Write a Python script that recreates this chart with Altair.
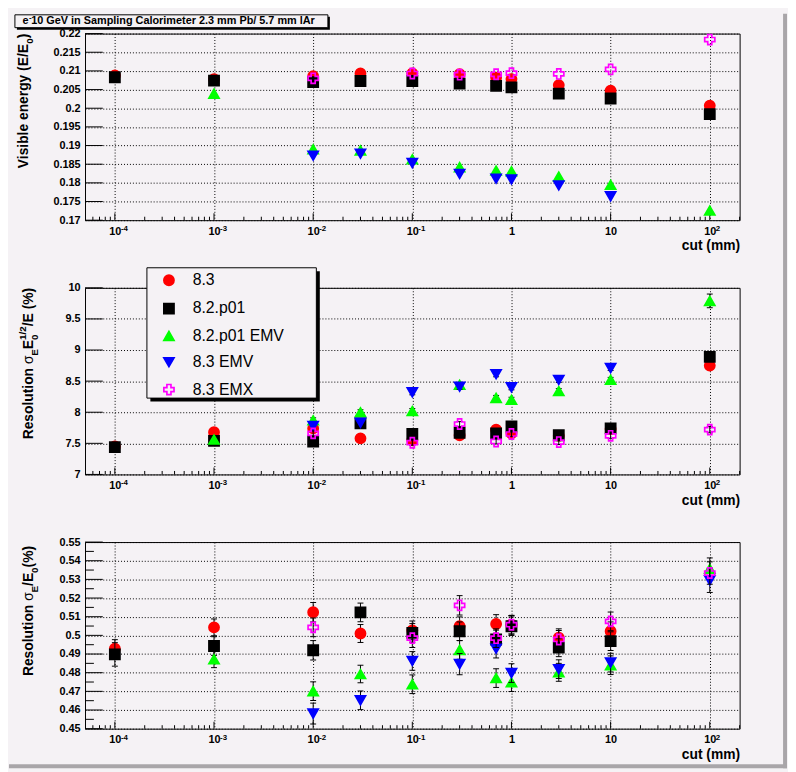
import altair as alt
import pandas as pd

# ---------------- data ----------------
CUTS = [1e-4, 1e-3, 1e-2, 3e-2, 0.1, 0.3, 0.7, 1, 3, 10, 100]
SERIES = ["8.3", "8.2.p01", "8.2.p01 EMV", "8.3 EMV", "8.3 EMX"]
COLORS = ["#ff0000", "#000000", "#00ff00", "#0000ff", "#ff00ff"]
FILLS = ["#ff0000", "#000000", "#00ff00", "#0000ff", "transparent"]
SHAPES = ["circle", "square", "triangle-up", "triangle-down", "cross"]

# Visible energy (E/E0)
VIS_83 = [0.2088, 0.2078, 0.2086, 0.2093, 0.2093, 0.2091, 0.2082, 0.2078, 0.2062, 0.2047, 0.2007]
VIS_82 = [0.2083, 0.2074, 0.2070, 0.2073, 0.2073, 0.2066, 0.2060, 0.2056, 0.2039, 0.2026, 0.1984]
VIS_82EMV = [None, 0.2039, 0.1890, 0.1887, 0.1863, 0.1842, 0.1833, 0.1831, 0.1817, 0.1795, 0.1726]
VIS_83EMV = [None, None, 0.1873, 0.1878, 0.1853, 0.1824, 0.1811, 0.1809, 0.1793, 0.1764, None]
VIS_83EMX = [None, None, 0.2080, None, 0.2093, 0.2090, 0.2091, 0.2094, 0.2092, 0.2104, 0.2184]

# Resolution sigma_E E0^1/2 / E (%)
RES_83 = [7.45, 7.68, 7.74, 7.58, 7.55, 7.63, 7.72, 7.66, 7.62, 7.73, 8.75]
RES_82 = [7.44, 7.54, 7.53, 7.82, 7.65, 7.67, 7.66, 7.77, 7.63, 7.74, 8.89]
RES_82EMV = [None, 7.56, 7.87, 8.00, 8.02, 8.44, 8.23, 8.20, 8.34, 8.52, 9.79]
RES_83EMV = [None, None, 7.78, 7.83, 8.32, 8.41, 8.61, 8.40, 8.52, 8.71, None]
RES_83EMX = [None, None, 7.66, None, 7.51, 7.81, 7.53, 7.65, 7.52, 7.62, 7.72]
RES_ERR_83 = [0.04, 0.04, 0.04, 0.04, 0.04, 0.04, 0.04, 0.04, 0.04, 0.04, 0.05]
RES_ERR_82 = [0.04, 0.04, 0.04, 0.04, 0.04, 0.04, 0.04, 0.04, 0.04, 0.04, 0.05]
RES_ERR_82EMV = [0.04, 0.04, 0.04, 0.04, 0.04, 0.04, 0.04, 0.04, 0.04, 0.04, 0.11]
RES_ERR_83EMV = [0.04, 0.04, 0.04, 0.04, 0.04, 0.04, 0.04, 0.04, 0.04, 0.04, 0.05]
RES_ERR_83EMX = [0.04, 0.04, 0.04, 0.04, 0.04, 0.04, 0.04, 0.04, 0.04, 0.04, 0.05]

# Resolution sigma_E / E0 (%)
SIG_83 = [0.4929, 0.5043, 0.5124, 0.5010, 0.5027, 0.5049, 0.5061, 0.5057, 0.4987, 0.5022, None]
SIG_82 = [0.4898, 0.4943, 0.4920, 0.5123, 0.5013, 0.5022, 0.4978, 0.5049, 0.4934, 0.4969, None]
SIG_82EMV = [None, 0.4872, 0.4701, 0.4793, 0.4738, 0.4922, 0.4771, 0.4749, 0.4802, 0.4840, 0.5357]
SIG_83EMV = [None, None, 0.4581, 0.4652, 0.4863, 0.4846, 0.4929, 0.4798, 0.4819, 0.4854, 0.5295]
SIG_83EMX = [None, None, 0.5043, None, 0.4985, 0.5161, 0.4985, 0.5057, 0.4978, 0.5075, 0.5334]
SIG_ERR_83 = [0.0048, 0.0045, 0.0052, 0.0048, 0.0050, 0.0050, 0.0050, 0.0050, 0.0048, 0.0050, 0.0060]
SIG_ERR_82 = [0.0063, 0.0050, 0.0052, 0.0050, 0.0050, 0.0050, 0.0050, 0.0050, 0.0048, 0.0050, 0.0060]
SIG_ERR_82EMV = [0.0050, 0.0045, 0.0050, 0.0047, 0.0050, 0.0050, 0.0050, 0.0050, 0.0048, 0.0050, 0.0058]
SIG_ERR_83EMV = [0.0050, 0.0050, 0.0056, 0.0050, 0.0050, 0.0057, 0.0050, 0.0050, 0.0050, 0.0050, 0.0065]
SIG_ERR_83EMX = [0.0050, 0.0050, 0.0050, 0.0050, 0.0050, 0.0052, 0.0050, 0.0050, 0.0048, 0.0050, 0.0060]

# axes
DECADES = [1e-4, 1e-3, 1e-2, 1e-1, 1, 10, 100]
DECADE_BASES = ["10", "10", "10", "10", "1", "10", "10"]
DECADE_EXPS = ["-4", "-3", "-2", "-1", "", "", "2"]
MINOR_MULT = [2, 3, 4, 5, 6, 7, 8, 9]
VIS_TICKS = [0.17, 0.175, 0.18, 0.185, 0.19, 0.195, 0.2, 0.205, 0.21, 0.215, 0.22]
RES_TICKS = [7, 7.5, 8, 8.5, 9, 9.5, 10]
SIG_TICKS = [0.45, 0.46, 0.47, 0.48, 0.49, 0.5, 0.51, 0.52, 0.53, 0.54, 0.55]
SIG_MINOR = [0.455, 0.465, 0.475, 0.485, 0.495, 0.505, 0.515, 0.525, 0.535, 0.545]

TITLE = ["e", "-", " 10 GeV in Sampling Calorimeter 2.3 mm Pb/ 5.7 mm lAr"]

# ---------------- style ----------------
FONT = "Liberation Sans"
BG = "#f5f2f5"
PW, PH = 663, 189
XDOM = [5e-5, 200]
ONE = pd.DataFrame({"k": [0]})

AW = {' ': 278, '(': 333, ')': 333, '%': 889, '/': 278, '.': 278, '-': 333,
      'E': 667, 'R': 722, 'V': 667, 'G': 778, 'S': 667, 'C': 722, 'P': 667, 'A': 722,
      'a': 556, 'b': 611, 'c': 556, 'e': 556, 'g': 611, 'i': 278, 'l': 278, 'm': 889,
      'n': 611, 'o': 611, 'p': 611, 'r': 389, 's': 556, 't': 333, 'u': 611, 'y': 556,
      'σ': 600}


def tw(s, size):
    return sum(AW.get(ch, 556) for ch in s) * size / 1000.0


def frame(vals, errs=None):
    rows = []
    for i, s in enumerate(SERIES):
        for j, c in enumerate(CUTS):
            v = vals[i][j]
            if v is None:
                continue
            rows.append(dict(cut=c, value=v, err=(errs[i][j] if errs else 0.0), series=s))
    return pd.DataFrame(rows)


def text_layer(txt, x, y, size, weight="bold", angle=0):
    kw = dict(text=txt, align="left", baseline="alphabetic", font=FONT,
              fontSize=size, fontWeight=weight, color="black")
    if angle:
        kw["angle"] = angle
    return alt.Chart(ONE).mark_text(**kw).encode(x=alt.value(x), y=alt.value(y))


def rect_layer(x, x2, y, y2, fill, stroke=None):
    kw = dict(fill=fill)
    if stroke:
        kw.update(stroke=stroke, strokeWidth=1)
    return alt.Chart(ONE).mark_rect(**kw).encode(
        x=alt.value(x), x2=alt.value(x2), y=alt.value(y), y2=alt.value(y2))


def ytitle(pieces, base_x, size=14, sub_size=10, sub_shift=5, sup_shift=-7):
    placed = []
    pos = 0.0
    for kind, txt in pieces:
        if kind == "n":
            placed.append((txt, pos, size, "bold", 0)); pos += tw(txt, size)
        elif kind == "g":
            placed.append((txt, pos, size, "normal", 0)); pos += tw(txt, size)
        elif kind == "sub":
            placed.append((txt, pos, sub_size, "bold", sub_shift)); pos += tw(txt, sub_size)
        elif kind == "subsup":
            a, b = txt
            placed.append((a, pos, sub_size, "bold", sub_shift))
            placed.append((b, pos, sub_size, "bold", sup_shift))
            pos += max(tw(a, sub_size), tw(b, sub_size))
    total = pos
    return [text_layer(t, base_x + sh, total - p, sz, wt, angle=270) for t, p, sz, wt, sh in placed]


label_expr = "[" + ",".join("'%s'" % l for l in DECADE_BASES) + "][round(log(datum.value)/LN10)+4]"
minor_x = [m * d for d in [1e-5] + DECADES for m in MINOR_MULT if 5.01e-5 < m * d <= 200]
exp_df = pd.DataFrame({"cut": DECADES, "exp": DECADE_EXPS})
exp_df = exp_df[exp_df["exp"] != ""]

FILL_SCALE = alt.Scale(domain=SERIES, range=FILLS)
STROKE_SCALE = alt.Scale(domain=SERIES, range=COLORS)
SHAPE_SCALE = alt.Scale(domain=SERIES, range=SHAPES)


def make_panel(df, ydom, ymajor, yminor, tpieces, title_x, legend=None, errors=False, pre=(), post=()):
    xs = alt.Scale(type="log", domain=XDOM, nice=False)
    ys = alt.Scale(domain=ydom, nice=False, zero=False)
    xaxis = alt.Axis(values=DECADES, labelExpr=label_expr, grid=True, ticks=False, tickSize=0,
                     domain=False, labelFont=FONT, labelFontSize=11, labelFontWeight="bold",
                     labelColor="black", labelPadding=5, labelFlush=False, labelOverlap=False,
                     gridColor="black", gridDash=[1, 2], gridWidth=1, gridOpacity=1,
                     title="cut (mm)", titleFont=FONT, titleFontSize=14, titleFontWeight="bold",
                     titleColor="black", titleAnchor="end", titleAlign="right",
                     titleBaseline="alphabetic", titleX=PW, titleY=30)
    yaxis = alt.Axis(values=ymajor, format="~g", grid=True, ticks=False, tickSize=0, domain=False,
                     labelFont=FONT, labelFontSize=11, labelFontWeight="bold", labelColor="black",
                     labelPadding=5, labelFlush=False, labelOverlap=False,
                     gridColor="black", gridDash=[1, 2], gridWidth=1, gridOpacity=1, title=None)
    X = alt.X("cut:Q", scale=xs, axis=xaxis)
    layers = list(pre)
    # inward ticks
    layers.append(alt.Chart(pd.DataFrame({"cut": DECADES})).mark_rule(color="black", strokeWidth=1).encode(
        x=X, y=alt.value(PH), y2=alt.value(PH - 7)))
    layers.append(alt.Chart(pd.DataFrame({"cut": minor_x})).mark_rule(color="black", strokeWidth=1).encode(
        x=X, y=alt.value(PH), y2=alt.value(PH - 3.5)))
    layers.append(alt.Chart(pd.DataFrame({"value": ymajor})).mark_rule(color="black", strokeWidth=1).encode(
        y=alt.Y("value:Q", scale=ys, axis=yaxis), x=alt.value(0), x2=alt.value(18)))
    if yminor:
        layers.append(alt.Chart(pd.DataFrame({"value": yminor})).mark_rule(color="black", strokeWidth=1).encode(
            y=alt.Y("value:Q", scale=ys, axis=yaxis), x=alt.value(0), x2=alt.value(9)))
    # exponents of the decade labels
    layers.append(alt.Chart(exp_df).mark_text(align="left", baseline="alphabetic", dx=tw("10", 11) / 2,
                                              font=FONT, fontSize=8, fontWeight="bold", color="black").encode(
        x=X, y=alt.value(PH + 11), text="exp:N"))
    for s in SERIES:
        base = alt.Chart(df).transform_filter(alt.datum.series == s)
        if errors:
            eb = base.transform_calculate(lo="datum.value - datum.err", hi="datum.value + datum.err")
            layers.append(eb.mark_rule(color="black", strokeWidth=1).encode(
                x=X, y=alt.Y("lo:Q", scale=ys, axis=yaxis), y2="hi:Q"))
            for f in ("lo", "hi"):
                layers.append(eb.mark_tick(orient="horizontal", size=6, thickness=1, color="black",
                                           opacity=1).encode(
                    x=X, y=alt.Y(f + ":Q", scale=ys, axis=yaxis)))
        layers.append(base.mark_point(filled=True, opacity=1, size=106, strokeWidth=1.7).encode(
            x=X, y=alt.Y("value:Q", scale=ys, axis=yaxis),
            fill=alt.Fill("series:N", scale=FILL_SCALE, legend=legend),
            stroke=alt.Stroke("series:N", scale=STROKE_SCALE, legend=legend),
            shape=alt.Shape("series:N", scale=SHAPE_SCALE, legend=legend)))
    layers += ytitle(tpieces, title_x)
    layers += list(post)
    return alt.layer(*layers).properties(width=PW, height=PH)


# panel 1 decorations: canvas bevel + title box
ox, oy = 77, 20
pre1 = [
    rect_layer(784 - ox, 788 - ox, -oy, 764 - oy, "#a9a6a9"),
    rect_layer(-ox, 788 - ox, 760 - oy, 764 - oy, "#a9a6a9"),
]
bx0, by0, bx1, by1 = 6 - ox, 1 - oy, 323 - ox, 14 - oy
post1 = [
    rect_layer(bx0 + 2, bx1 + 2, by0 + 2, by1 + 2, "black"),
    rect_layer(bx0, bx1, by0, by1, BG, "black"),
]
tx = 13.7 - ox
ty = 10.7 - oy
post1.append(text_layer(TITLE[0], tx, ty, 11))
post1.append(text_layer(TITLE[1], tx + tw("e", 11) + 0.5, ty - 4, 8))
post1.append(text_layer(TITLE[2], tx + tw("e", 11) + tw("-", 8), ty, 11))

# panel 2 legend box
lx0, ly0, lx1, ly1 = 62.7, -20.3, 234.3, 111.7
post2 = [
    rect_layer(lx0 + 3.5, lx1 + 3.5, ly0 + 3.5, ly1 + 3.5, "black"),
    rect_layer(lx0, lx1, ly0, ly1, BG, "black"),
]
LEG = alt.Legend(title=None, orient="none", legendX=77, legendY=-15.7, direction="vertical",
                 padding=0, labelFont=FONT, labelFontSize=16, labelColor="black",
                 labelOffset=16, rowPadding=10.7, symbolSize=106, symbolStrokeWidth=1.7,
                 symbolOpacity=1, labelLimit=300)

df1 = frame([VIS_83, VIS_82, VIS_82EMV, VIS_83EMV, VIS_83EMX])
df2 = frame([RES_83, RES_82, RES_82EMV, RES_83EMV, RES_83EMX],
            [RES_ERR_83, RES_ERR_82, RES_ERR_82EMV, RES_ERR_83EMV, RES_ERR_83EMX])
df3 = frame([SIG_83, SIG_82, SIG_82EMV, SIG_83EMV, SIG_83EMX],
            [SIG_ERR_83, SIG_ERR_82, SIG_ERR_82EMV, SIG_ERR_83EMV, SIG_ERR_83EMX])

p1 = make_panel(df1, [0.17, 0.22], VIS_TICKS, None,
                [("n", "Visible energy (E/E"), ("sub", "0"), ("n", ")")], -58,
                legend=None, errors=False, pre=pre1, post=post1)
p2 = make_panel(df2, [7, 10], RES_TICKS, None,
                [("n", "Resolution "), ("g", "σ"), ("sub", "E"), ("n", "E"), ("subsup", ("0", "1/2")),
                 ("n", "/E (%)")], -53,
                legend=LEG, errors=True, post=post2)
p3 = make_panel(df3, [0.45, 0.55], SIG_TICKS, SIG_MINOR,
                [("n", "Resolution "), ("g", "σ"), ("sub", "E"), ("n", "/E"), ("sub", "0"), ("n", " (%)")], -53,
                legend=None, errors=True)

chart = alt.vconcat(p1, p2, p3, spacing=68.5, bounds="flush", padding=0, background=BG).resolve_scale(
    x="independent", y="independent", fill="independent", stroke="independent", shape="independent"
).resolve_legend(fill="independent", stroke="independent", shape="independent").configure(
    font=FONT
).configure_view(stroke="black", strokeWidth=1)

chart.save("out.html", embed_options={"renderer": "svg", "actions": False})
